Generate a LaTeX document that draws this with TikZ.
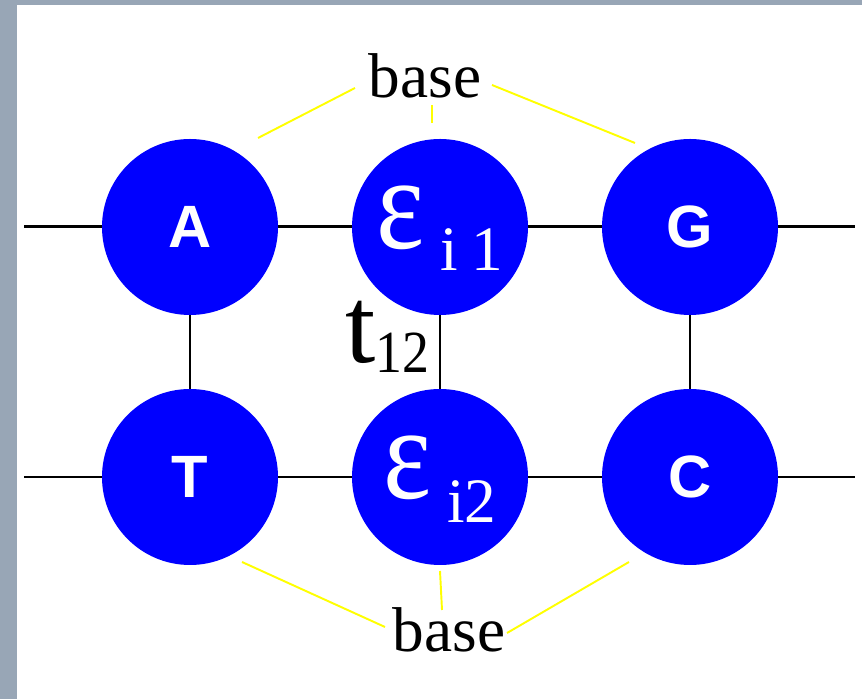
\documentclass[tikz,border=0pt]{standalone}
\usepackage{fontspec}
\setmainfont{Liberation Serif}
\newfontfamily\arialfont{Liberation Sans}
\usepackage{tikz}
\definecolor{siteblue}{RGB}{0,0,255}
\definecolor{slidegray}{RGB}{152,166,182}
\definecolor{baseyellow}{RGB}{255,255,0}

\begin{document}
\begin{tikzpicture}[
  site/.style={circle, fill=siteblue, minimum size=3.52cm, inner sep=0pt, text=white},
  letter/.style={font=\arialfont\bfseries\fontsize{34}{34}\selectfont},
  onsite/.style={font=\fontsize{62}{62}\selectfont, text height=34pt, text depth=10pt},
  chain/.style={black, line width=1.7pt},
  rung/.style={black, line width=1.1pt},
  guide/.style={baseyellow, line width=1.1pt}]
  \fill[slidegray] (0,0) rectangle (17.24,13.98);
  \fill[white] (0.34,0) rectangle (17.24,13.88);
  \useasboundingbox (0,0) rectangle (17.24,13.98);

  % sites of the two strands
  \node[site, letter] (A) at (3.8,9.44) {A};
  \node[site, onsite] (Ei1) at (8.8,9.44) {\scalebox{1.05}[1.22]{ε}\hspace{9pt}\raisebox{-13pt}{\fontsize{36}{36}\selectfont i\hspace{8pt}1}};
  \node[site, letter] (G) at (13.8,9.44) {G};
  \node[site, letter] (T) at (3.8,4.44) {T};
  \node[site, onsite] (Ei2) at (8.8,4.44) {\scalebox{1.05}[1.22]{ε}\hspace{9pt}\raisebox{-14pt}{\fontsize{36}{36}\selectfont i2}};
  \node[site, letter] (C) at (13.8,4.44) {C};

  \coordinate (w1) at (0.48,9.44);
  \coordinate (r1) at (17.1,9.44);
  \coordinate (w2) at (0.48,4.44);
  \coordinate (r2) at (17.1,4.44);
  \draw[chain] (w1) -- (A) -- (Ei1) -- (G) -- (r1);
  \draw[chain] (w2) -- (T) -- (Ei2) -- (C) -- (r2);
  \foreach \u/\v in {A/T, Ei1/Ei2, G/C}
    \draw[rung] (\u) -- (\v);

  \node[anchor=base west, inner sep=0pt] (t12) at (6.9,6.72)
    {\fontsize{62}{62}\selectfont t\raisebox{-5.5pt}{\fontsize{34}{34}\selectfont\scalebox{0.9}[1]{12}}};

  % base labels
  \node[anchor=base, font=\fontsize{36}{36}\selectfont] (btop) at (8.5,12.02) {base};
  \node[anchor=base, font=\fontsize{36}{36}\selectfont] (bbot) at (8.98,0.94) {base};

  \coordinate (tl1) at (7.1,12.22);   \coordinate (tl2) at (5.16,11.22);
  \coordinate (tm1) at (8.64,11.88);  \coordinate (tm2) at (8.64,11.52);
  \coordinate (tr1) at (9.84,12.28);  \coordinate (tr2) at (12.7,11.12);
  \coordinate (bl1) at (7.7,1.44);    \coordinate (bl2) at (4.84,2.74);
  \coordinate (bm1) at (8.84,1.78);   \coordinate (bm2) at (8.8,2.56);
  \coordinate (br1) at (10.14,1.32);  \coordinate (br2) at (12.58,2.74);
  \foreach \p in {tl, tm, tr, bl, bm, br}
    \draw[guide] (\p1) -- (\p2);
\end{tikzpicture}
\end{document}
